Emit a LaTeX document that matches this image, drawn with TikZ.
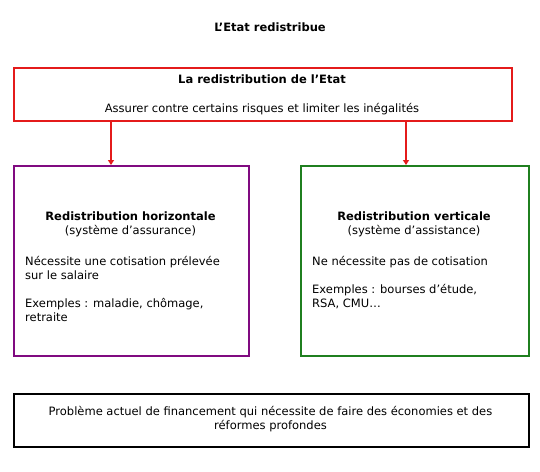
\documentclass[tikz,border=0pt]{standalone}
\usepackage{fontspec}
\setmainfont{DejaVu Sans}
\usetikzlibrary{arrows.meta,positioning}
\definecolor{redistred}{HTML}{E41B1B}
\definecolor{horizpurple}{HTML}{800A80}
\definecolor{vertgreen}{HTML}{1F7F1F}
\tikzset{
  frame/.style={draw,line width=2pt,inner sep=0pt,anchor=north west},
  txt/.style={inner sep=0pt,font=\fontsize{11.5}{14}\selectfont},
  flow/.style={redistred,line width=2pt,-{Triangle[width=6pt,length=5pt]}}
}
\begin{document}
\begin{tikzpicture}[x=1pt,y=-1pt]
\useasboundingbox[fill=white] (0,0) rectangle (540,471);
\node[txt,anchor=north,font=\fontsize{11.5}{14}\selectfont\bfseries] (title) at (270,23) {L’Etat redistribue};
% boites
\node[frame,redistred,minimum width=498pt,minimum height=53pt] (redist) at (13,67) {};
\node[frame,horizpurple,minimum width=235pt,minimum height=190pt] (horiz) at (13,165) {};
\node[frame,vertgreen,minimum width=228pt,minimum height=190pt] (vert) at (300,165) {};
\node[frame,black,minimum width=515pt,minimum height=53pt] (probleme) at (13,393) {};
% textes
\node[txt,anchor=north,font=\fontsize{11.5}{14}\selectfont\bfseries] (redisthead) at (262,75) {La redistribution de l’Etat};
\node[txt,anchor=north] (redisttext) at (262,103) {Assurer contre certains risques et limiter les inégalités};
\node[txt,anchor=north,align=center] (horizhead) at (130.5,212) {\textbf{Redistribution horizontale}\\(système d’assurance)};
\node[txt,anchor=north west,align=left] (horiztext) at (25,256) {Nécessite une cotisation prélevée\\sur le salaire\\[14pt]Exemples : maladie, chômage,\\retraite};
\node[txt,anchor=north,align=center] (verthead) at (414,212) {\textbf{Redistribution verticale}\\(système d’assistance)};
\node[txt,anchor=north west,align=left] (verttext) at (312,256) {Ne nécessite pas de cotisation\\[14pt]Exemples : bourses d’étude,\\RSA, CMU…};
\node[txt,anchor=north,align=center] (problemetext) at (270.5,406) {Problème actuel de financement qui nécessite de faire des économies et des\\réformes profondes};
% fleches
\coordinate (arrowL) at (111,0);
\coordinate (arrowR) at (406,0);
\draw[flow] (redist.south -| arrowL) -- (horiz.north -| arrowL);
\draw[flow] (redist.south -| arrowR) -- (vert.north -| arrowR);
\end{tikzpicture}
\end{document}
